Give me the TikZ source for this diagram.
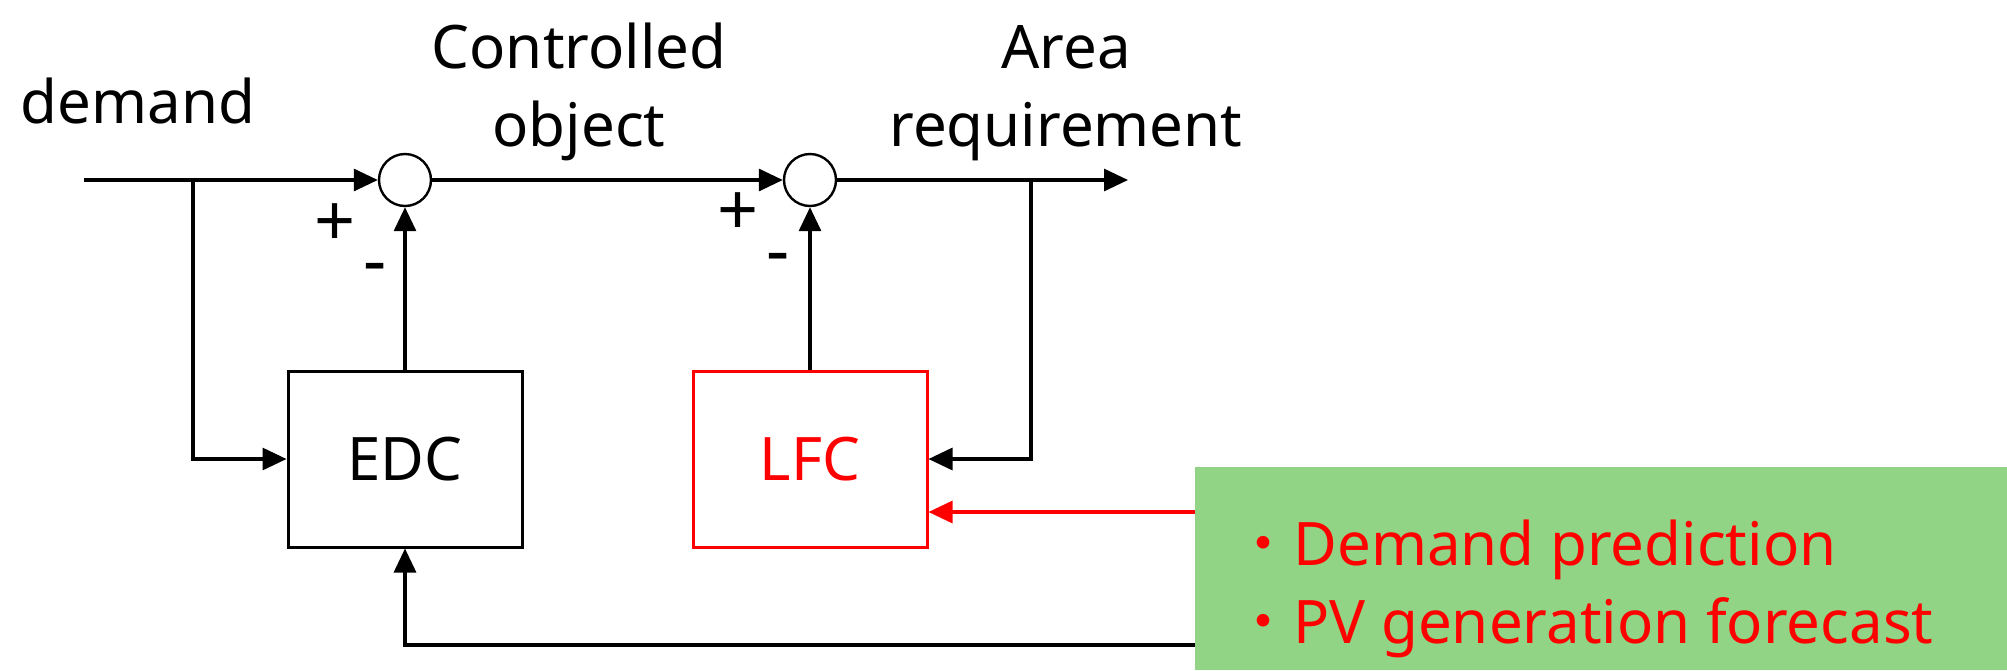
\documentclass[tikz,border=0pt]{standalone}
\usepackage{fontspec}
\setmainfont{Noto Sans}
\newfontfamily\cjk{Noto Sans CJK JP}
\usetikzlibrary{arrows.meta}
\definecolor{boxgreen}{RGB}{146,212,134}
\definecolor{pured}{RGB}{255,0,0}
\tikzset{
  wire/.style={line width=1.6pt, draw=black},
  arr/.style={wire, -{Triangle[length=12pt,width=11pt]}},
  sumc/.style={circle, draw=black, line width=1.2pt, minimum size=26pt, inner sep=0pt},
  blk/.style={rectangle, draw, line width=1.5pt, minimum width=117pt, minimum height=88pt, inner sep=0pt, font=\fontsize{30}{36}\selectfont},
  lbl/.style={font=\fontsize{30}{39}\selectfont, inner sep=0pt},
  sgn/.style={font=\fontsize{36}{38}\selectfont, inner sep=0pt},
}
\begin{document}
\begin{tikzpicture}[x=0.5pt,y=-0.5pt]
\useasboundingbox (0,0) rectangle (2007,670);
% green info box
\node[fill=boxgreen, minimum width=406pt, minimum height=101.5pt, inner sep=0pt, anchor=north west] (green) at (1195,467) {};
\node[lbl, text=pured, anchor=base west] (t1) at (1233,565) {{\cjk ・}Demand prediction};
\node[lbl, text=pured, anchor=base west] (t2) at (1233,643) {{\cjk ・}PV generation forecast};
% summing junctions
\node[sumc] (s1) at (405,180) {};
\node[sumc] (s2) at (810,180) {};
% blocks
\node[blk] (edc) at (405,459) {EDC};
\node[blk, draw=pured, text=pured] (lfc) at (810,459) {LFC};
% coordinates
\coordinate (in) at (84,180);
\coordinate (out) at (1128,180);
\coordinate (b1) at (193,180);
\coordinate (b2) at (1031,180);
\coordinate (rr) at (1195,512);
\coordinate (bl) at (1195,645);
% main path
\draw[arr] (in) -- (s1.west);
\draw[arr] (s1.east) -- (s2.west);
\draw[arr] (s2.east) -- (out);
% feedforward / feedback
\draw[arr] (b1) |- (edc.west);
\draw[arr] (edc.north) -- (s1.south);
\draw[arr] (lfc.north) -- (s2.south);
\draw[arr] (b2) |- (lfc.east);
\draw[arr, draw=pured, -{Triangle[length=12pt,width=11pt,fill=pured]}] (rr) -- (rr -| lfc.east);
\draw[arr] (bl) -| (edc.south);
% labels
\node[lbl, anchor=base] (dem) at (138,123) {demand};
\node[lbl, anchor=base, align=center] (co) at (579,146) {Controlled\\object};
\node[lbl, anchor=base, align=center] (ar) at (1066,146) {Area\\requirement};
\node[sgn] (p1) at (335,225) {+};
\node[sgn] (m1) at (375,274) {-};
\node[sgn] (p2) at (738,214) {+};
\node[sgn] (m2) at (778,264) {-};
\end{tikzpicture}
\end{document}
